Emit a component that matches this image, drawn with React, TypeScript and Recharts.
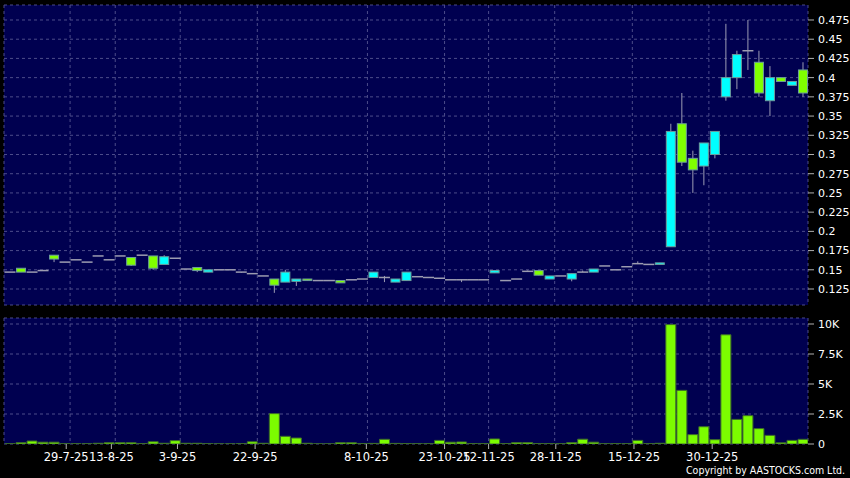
import React from "react";
import { ComposedChart, Bar, XAxis, YAxis, CartesianGrid } from "recharts";

// daily candles, oldest first
const opens = [
  0.147, 0.152, 0.147, 0.149, 0.169, 0.16, 0.163, 0.16, 0.168, 0.163,
  0.168, 0.166, 0.169, 0.168, 0.157, 0.165, 0.151, 0.153, 0.147, 0.15,
  0.15, 0.147, 0.145, 0.142, 0.138, 0.134, 0.135, 0.138, 0.136, 0.136,
  0.136, 0.137, 0.138, 0.14, 0.14, 0.134, 0.136, 0.141, 0.14, 0.139,
  0.137, 0.137, 0.137, 0.137, 0.146, 0.136, 0.138, 0.148, 0.149, 0.138,
  0.142, 0.138, 0.147, 0.147, 0.155, 0.15, 0.154, 0.158, 0.157, 0.157,
  0.18, 0.34, 0.295, 0.285, 0.3, 0.375, 0.4, 0.435, 0.42, 0.37,
  0.4, 0.39, 0.41,
];
const highs = [
  0.147, 0.152, 0.147, 0.149, 0.169, 0.16, 0.163, 0.16, 0.168, 0.163,
  0.168, 0.166, 0.169, 0.168, 0.169, 0.165, 0.151, 0.153, 0.15, 0.15,
  0.15, 0.147, 0.145, 0.142, 0.138, 0.15, 0.138, 0.138, 0.136, 0.136,
  0.136, 0.137, 0.138, 0.147, 0.142, 0.138, 0.147, 0.141, 0.14, 0.139,
  0.137, 0.137, 0.137, 0.137, 0.149, 0.136, 0.138, 0.149, 0.149, 0.142,
  0.142, 0.145, 0.149, 0.151, 0.155, 0.15, 0.154, 0.161, 0.157, 0.159,
  0.34, 0.38, 0.305, 0.315, 0.33, 0.47, 0.435, 0.475, 0.435, 0.415,
  0.4, 0.395, 0.42,
];
const lows = [
  0.147, 0.147, 0.147, 0.149, 0.16, 0.16, 0.163, 0.16, 0.168, 0.163,
  0.168, 0.155, 0.169, 0.15, 0.157, 0.165, 0.151, 0.147, 0.147, 0.15,
  0.15, 0.146, 0.145, 0.142, 0.12, 0.134, 0.129, 0.136, 0.136, 0.136,
  0.133, 0.137, 0.138, 0.14, 0.134, 0.134, 0.136, 0.141, 0.14, 0.139,
  0.137, 0.134, 0.137, 0.137, 0.146, 0.136, 0.138, 0.148, 0.143, 0.138,
  0.142, 0.135, 0.147, 0.147, 0.155, 0.15, 0.154, 0.158, 0.157, 0.157,
  0.18, 0.285, 0.25, 0.26, 0.295, 0.37, 0.385, 0.41, 0.375, 0.35,
  0.395, 0.39, 0.375,
];
const closes = [
  0.147, 0.147, 0.147, 0.149, 0.164, 0.16, 0.163, 0.16, 0.168, 0.163,
  0.168, 0.156, 0.169, 0.152, 0.167, 0.165, 0.151, 0.149, 0.15, 0.15,
  0.15, 0.147, 0.145, 0.142, 0.13, 0.147, 0.138, 0.136, 0.136, 0.136,
  0.133, 0.137, 0.138, 0.147, 0.14, 0.138, 0.147, 0.141, 0.14, 0.139,
  0.137, 0.137, 0.137, 0.137, 0.149, 0.136, 0.138, 0.148, 0.143, 0.142,
  0.142, 0.145, 0.147, 0.151, 0.155, 0.15, 0.154, 0.158, 0.157, 0.159,
  0.33, 0.29, 0.28, 0.315, 0.33, 0.4, 0.43, 0.435, 0.38, 0.4,
  0.395, 0.395, 0.38,
];
const volumes = [
  20, 110, 250, 150, 150, 20, 20, 20, 60, 110,
  110, 110, 30, 190, 60, 280, 60, 60, 20, 10,
  10, 20, 190, 60, 2530, 640, 500, 60, 10, 10,
  110, 110, 30, 50, 390, 50, 30, 20, 20, 300,
  150, 170, 30, 30, 420, 30, 120, 120, 40, 30,
  20, 120, 400, 150, 20, 30, 20, 300, 20, 60,
  9950, 4470, 780, 1440, 360, 9100, 2050, 2360, 1280, 720,
  100, 300, 390,
];

const priceTicks = [
  0.125, 0.15, 0.175, 0.2, 0.225, 0.25, 0.275, 0.3, 0.325, 0.35, 0.375,
  0.4, 0.425, 0.45, 0.475,
];
const volumeTicks = [0, 2500, 5000, 7500, 10000];
const dateLabels = [
  "29-7-25", "13-8-25", "3-9-25", "22-9-25", "8-10-25",
  "23-10-25", "12-11-25", "28-11-25", "15-12-25", "30-12-25",
];
// positions in candle slots (0 = left edge of plot)
const labelSlots = [5.65, 9.75, 15.75, 22.8, 32.9, 40.0, 44.0, 50.1, 57.2, 64.3];
const gridSlots = [6.0, 10.1, 16.0, 23.0, 33.0, 40.0, 44.0, 50.0, 57.05, 64.0];

const data = opens.map((open, i) => ({
  slot: i + 0.5,
  open,
  high: highs[i],
  low: lows[i],
  close: closes[i],
  range: [lows[i], highs[i]],
  volume: volumes[i],
}));

const W = 850;
const NAVY = "#000050";
const GRID = "#4c4c8a";
const FONT = "DejaVu Sans";
const tickStyle = { fill: "#ffffff", fontSize: 11, fontFamily: FONT };
const dateTickStyle = { fill: "#ffffff", fontSize: 11.5, fontFamily: FONT };

const Candle = (props: any) => {
  const { x, y, width, height, payload } = props;
  const { open, close, high, low } = payload;
  const top = Math.min(y, y + height);
  const h = Math.abs(height);
  const span = high - low;
  const toY = (p: number) => (span > 0 ? top + ((high - p) / span) * h : top);
  const cx = x + width / 2;
  const wick =
    span > 0 ? (
      <line x1={cx} x2={cx} y1={toY(high)} y2={toY(low)} stroke="#9c9cb4" strokeWidth={1} />
    ) : null;
  if (open === close) {
    const yy = toY(open);
    return (
      <g>
        {wick}
        <line x1={x - 0.5} x2={x + width + 0.5} y1={yy} y2={yy} stroke="#9c9cb0" strokeWidth={1.5} />
      </g>
    );
  }
  const bTop = toY(Math.max(open, close));
  const bBot = toY(Math.min(open, close));
  const fill = close > open ? "#00ffff" : "#80ff00";
  return (
    <g>
      {wick}
      <rect
        x={x + 0.5}
        y={bTop}
        width={width - 1}
        height={Math.max(bBot - bTop, 1.5)}
        fill={fill}
        stroke="#6c9c9c"
        strokeWidth={1}
      />
    </g>
  );
};

export default function App() {
  return (
    <div
      style={{
        position: "absolute",
        left: 0,
        top: 0,
        width: W,
        height: 478,
        background: "#000000",
        overflow: "hidden",
      }}
    >
      <ComposedChart width={W} height={311} data={data} margin={{ top: 5, right: 0, bottom: 6, left: 4 }}>
        <CartesianGrid
          xAxisId="grid"
          fill={NAVY}
          stroke={GRID}
          strokeDasharray="3 3"
        />
        <XAxis xAxisId="main" orientation="top" dataKey="slot" type="number" domain={[0, 73]} allowDataOverflow hide />
        <XAxis xAxisId="grid" orientation="top" dataKey="slot" type="number" domain={[0, 73]} allowDataOverflow ticks={gridSlots} interval={0} hide />
        <YAxis
          orientation="right"
          width={42}
          domain={[0.1042, 0.4945]}
          allowDataOverflow
          ticks={priceTicks}
          interval={0}
          axisLine={false}
          tickLine={{ stroke: "#b0b0b0" }}
          tickSize={6}
          tickMargin={4}
          tick={tickStyle}
        />
        <Bar
          xAxisId="main"
          dataKey="range"
          barSize={10}
          shape={<Candle />}
          isAnimationActive={false}
        />
      </ComposedChart>
      <ComposedChart width={W} height={167} data={data} margin={{ top: 7, right: 0, bottom: 0, left: 4 }}>
        <CartesianGrid
          xAxisId="grid"
          fill={NAVY}
          stroke={GRID}
          strokeDasharray="3 3"
        />
        <XAxis
          xAxisId="lbl"
          dataKey="slot"
          type="number"
          domain={[0, 73]}
          allowDataOverflow
          ticks={labelSlots}
          interval={0}
          height={34}
          axisLine={false}
          tickLine={{ stroke: "#b0b0b0" }}
          tickSize={5}
          tickMargin={4}
          tick={dateTickStyle}
          tickFormatter={(v: number, i: number) => dateLabels[i]}
        />
        <XAxis xAxisId="main" orientation="top" dataKey="slot" type="number" domain={[0, 73]} allowDataOverflow hide />
        <XAxis xAxisId="grid" orientation="top" dataKey="slot" type="number" domain={[0, 73]} allowDataOverflow ticks={gridSlots} interval={0} hide />
        <YAxis
          orientation="right"
          width={42}
          domain={[0, 10500]}
          allowDataOverflow
          ticks={volumeTicks}
          interval={0}
          axisLine={false}
          tickLine={{ stroke: "#b0b0b0" }}
          tickSize={6}
          tickMargin={4}
          tick={tickStyle}
          tickFormatter={(v: number) => (v === 0 ? "0" : `${v / 1000}K`)}
        />
        <Bar
          xAxisId="main"
          dataKey="volume"
          barSize={10}
          fill="#7cfc00"
          stroke="#3d6b2a"
          strokeWidth={1}
          isAnimationActive={false}
        />
      </ComposedChart>
      <div
        style={{
          position: "absolute",
          left: 686,
          top: 463,
          color: "#ffffff",
          fontFamily: "'DejaVu Sans Condensed', 'DejaVu Sans'",
          fontSize: 10.5,
          whiteSpace: "nowrap",
          lineHeight: "14px",
        }}
      >
        Copyright by AASTOCKS.com Ltd.
      </div>
    </div>
  );
}
